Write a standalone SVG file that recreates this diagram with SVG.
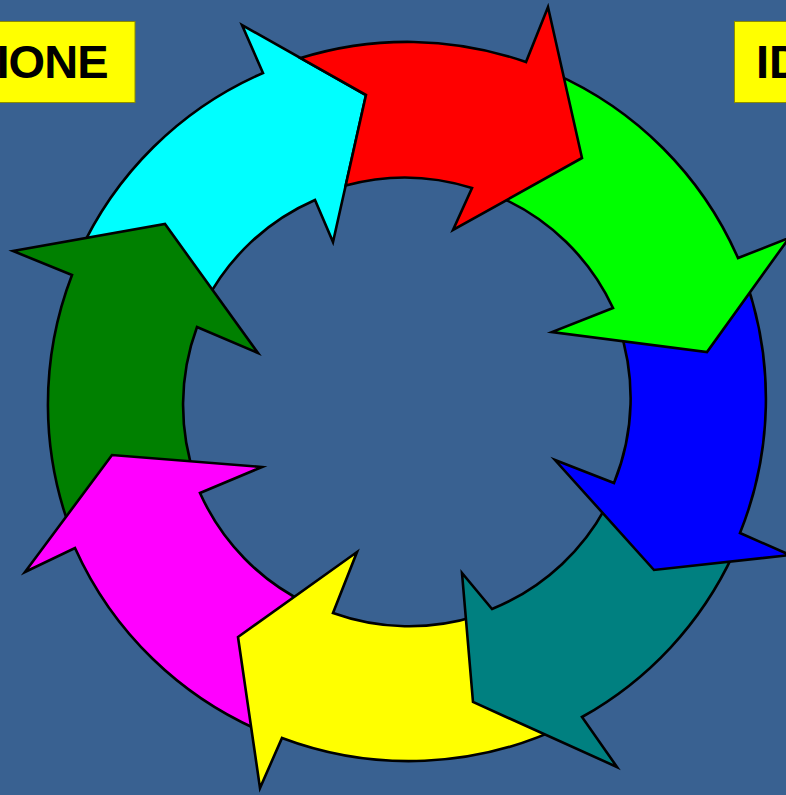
<svg xmlns="http://www.w3.org/2000/svg" width="786" height="795" viewBox="0 0 786 795">
<style>
.arr{stroke:#000;stroke-width:2.6;stroke-linejoin:miter;stroke-miterlimit:10}
.box{fill:#ffff00;stroke:#8c8c00;stroke-width:1}
.lbl{font-family:"Liberation Sans",Arial,sans-serif;font-weight:bold;font-size:47px;fill:#000}
</style>
<rect x="0" y="0" width="786" height="795" fill="#396191"/>
<g id="arrow-cyan"><path class="arr" fill="#00ffff" d="M78.1,255.6 A360,360 0 0 1 263,73 L242,25 L366,95 L333,242 L315,200 A225,225 0 0 0 204.8,303.4 Z"/></g>
<g id="arrow-darkgreen"><path class="arr" fill="#008000" d="M73.2,536.9 A360,360 0 0 1 72,275 L13,251 L165,224 L258,353 L197,327 A225,225 0 0 0 195.6,479 Z"/></g>
<g id="arrow-magenta"><path class="arr" fill="#ff00ff" d="M266.3,733.4 A360,360 0 0 1 75,548 L25,572 L112,455 L262,467 L200,493 A225,225 0 0 0 308.4,604.2 Z"/></g>
<g id="arrow-yellow"><path class="arr" fill="#ffff00" d="M564.8,725.6 A360,360 0 0 1 282,738 L260,788 L238,637 L357,552 L333,613 A225,225 0 0 0 476.5,616 Z"/></g>
<g id="arrow-teal"><path class="arr" fill="#008080" d="M733.3,554.1 A360,360 0 0 1 582,717 L617,767 L473,702 L462,573 L492,609 A225,225 0 0 0 610.9,497.1 Z"/></g>
<g id="arrow-blue"><path class="arr" fill="#0000ff" d="M745.3,278.9 A360,360 0 0 1 740,533 L790,555 L654,570 L555,460 L614,483 A225,225 0 0 0 618.4,325 Z"/></g>
<g id="arrow-green"><path class="arr" fill="#00ff00" d="M553.4,73.1 A360,360 0 0 1 738,258 L789,238 L707,352 L552,332 L613,308 A225,225 0 0 0 498.5,196.5 Z"/></g>
<g id="arrow-red"><path class="arr" fill="#ff0000" d="M300.6,58.1 A360,360 0 0 1 526,62 L548,7 L582,158 L453,230 L472,188 A225,225 0 0 0 345.7,185.5 L366,95 Z"/></g>
<g id="label-left"><rect class="box" x="-2" y="21.5" width="137" height="81"/><text class="lbl" x="-3.5" y="77.5" textLength="112" lengthAdjust="spacing">IONE</text></g>
<g id="label-right"><rect class="box" x="734.5" y="21.5" width="60" height="81"/><text class="lbl" x="756" y="77.5">ID</text></g>
</svg>
